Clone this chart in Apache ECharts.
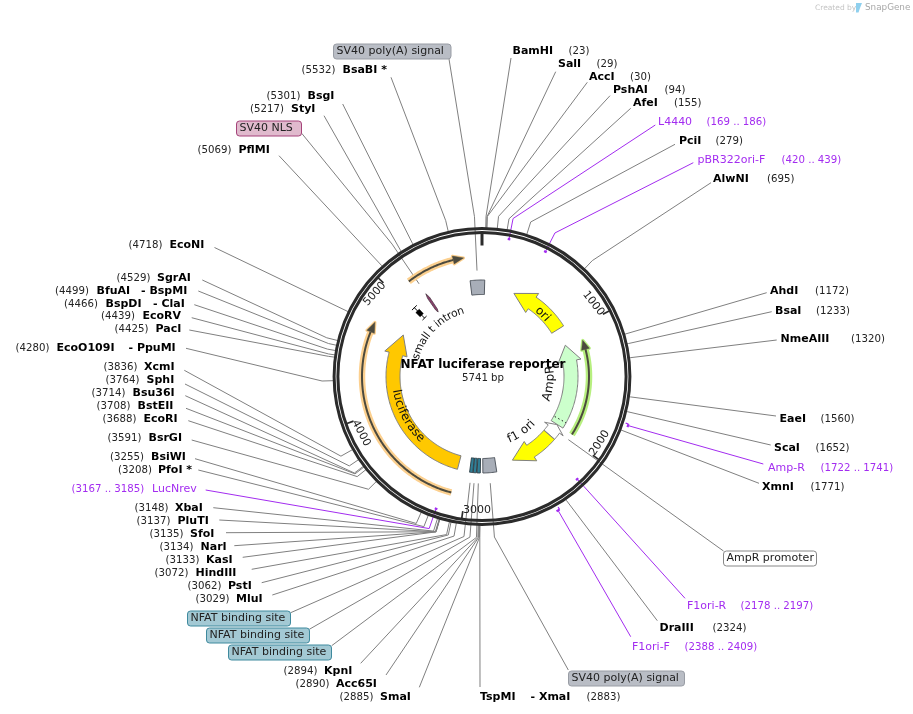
<!DOCTYPE html>
<html>
<head>
<meta charset="utf-8">
<script src="https://cdn.jsdelivr.net/npm/echarts@6/dist/echarts.min.js"></script>
<style>
html, body { margin: 0; padding: 0; background: #fff; }
#map { width: 913px; height: 714px; }
</style>
</head>
<body>
<div id="map"></div>
<script>
// plasmid
var plasmidName = 'NFAT luciferase reporter';
var plasmidLength = 5741;
var tickValues = [1000, 2000, 3000, 4000, 5000];

// restriction sites
var siteNames = ['BamHI', 'SalI', 'AccI', 'PshAI', 'AfeI', 'PciI', 'AlwNI', 'AhdI', 'BsaI', 'NmeAIII', 'EaeI', 'ScaI', 'XmnI', 'DraIII',
	'TspMI - XmaI', 'SmaI', 'Acc65I', 'KpnI', 'MluI', 'PstI', 'HindIII', 'KasI', 'NarI', 'SfoI', 'PluTI', 'XbaI', 'PfoI *', 'BsiWI', 'BsrGI',
	'EcoRI', 'BstEII', 'Bsu36I', 'SphI', 'XcmI', 'EcoO109I - PpuMI', 'PacI', 'EcoRV', 'BspDI - ClaI', 'BfuAI - BspMI', 'SgrAI', 'EcoNI',
	'PflMI', 'StyI', 'BsgI', 'BsaBI *'];
var sitePositions = [23, 29, 30, 94, 155, 279, 695, 1172, 1233, 1320, 1560, 1652, 1771, 2324,
	2883, 2885, 2890, 2894, 3029, 3062, 3072, 3133, 3134, 3135, 3137, 3148, 3208, 3255, 3591,
	3688, 3708, 3714, 3764, 3836, 4280, 4425, 4439, 4466, 4499, 4529, 4718,
	5069, 5217, 5301, 5532];

// primers
var primerNames = ['L4440', 'pBR322ori-F', 'Amp-R', 'F1ori-R', 'F1ori-F', 'LucNrev'];
var primerStarts = [169, 420, 1722, 2178, 2388, 3167];
var primerEnds = [186, 439, 1741, 2197, 2409, 3185];

// features with an arrow: tail, base of the head, tip
var arrowNames = ['ori', 'AmpR', 'AmpR promoter', 'f1 ori', 'luciferase'];
var arrowTails = [928, 1954, 2086, 2089, 3107];
var arrowHeads = [547, 1276, 2012, 2344, 4540];
var arrowTips = [335, 1107, 1957, 2552, 4749];

// features without an arrow
var boxNames = ['SV40 poly(A) signal', 'NFAT binding site', 'NFAT binding site', 'NFAT binding site', 'SV40 poly(A) signal'];
var boxStarts = [2730, 2887, 2924, 2958, 5628];
var boxEnds = [2862, 2917, 2954, 2988, 5767];
var nlsStart = 5185, nlsEnd = 5207;
var intronPosition = 5031;
var signalPeptide = 1895;

// open reading frames: start, end
var orfStarts = [1958, 3107, 5142];
var orfEnds = [1120, 4734, 5600];

// ---- layout, kept apart from the values above ----
var font = '11px "DejaVu Sans"';
var numberFont = '10.2px "DejaVu Sans"';
var boldFont = 'bold 11px "DejaVu Sans"';
var GREY = '#808080', PURPLE = '#a32cf0';

// number x, name x, second name x, y, leader end x, y, elbow radius
var siteLayout = [
	[568.5, 512.5, 0, 51, 511, 58, 160], [596.5, 558, 0, 64, 555.7, 71.7, 160], [630, 589, 0, 77, 587.3, 82.3, 160],
	[664.5, 613, 0, 90, 610, 95.7, 161], [674, 633, 0, 103, 630.7, 108.3, 160], [715.5, 679, 0, 141, 675, 144.3, 162],
	[767, 713, 0, 179, 711, 182.7, 160], [815, 770, 0, 291, 766.7, 292.7, 150], [816, 775, 0, 311, 771.7, 311.7, 150],
	[851, 780.5, 0, 339, 776.7, 340, 150], [820.5, 779.5, 0, 419, 776, 416, 150], [815.5, 774, 0, 448, 770.7, 445, 150],
	[810.5, 762, 0, 487, 759, 483.3, 150], [712.5, 659.5, 0, 628, 657.3, 620.7, 150],
	[586.5, 480, 530.5, 697, 480, 687, 161], [339.5, 380, 0, 697, 419.3, 687.3, 161], [295.5, 336, 0, 684, 386, 675, 161],
	[283.5, 324, 0, 671, 360.7, 663.3, 161], [195.5, 236, 0, 599, 272.3, 595, 162], [187.5, 228, 0, 586, 261.7, 582.7, 162],
	[154.5, 195.5, 0, 573, 251.7, 569.3, 162], [165.5, 206, 0, 560, 242.7, 557.3, 162], [159.5, 200.5, 0, 547, 234.3, 545.7, 162],
	[149.5, 190, 0, 534, 226, 532.7, 162], [136.5, 177.5, 0, 521, 219.3, 520, 162], [134.5, 175, 0, 508, 213.3, 507.7, 162],
	[118, 158, 0, 470, 198.3, 470, 161], [110, 151, 0, 457, 195, 458.7, 161], [107.5, 148.5, 0, 438, 191.7, 440, 160],
	[102.5, 143.5, 0, 419, 188.3, 420.7, 160], [96.5, 137.5, 0, 406, 186, 408.3, 160], [91.5, 132.5, 0, 393, 185.3, 395.7, 160],
	[105.5, 146.5, 0, 380, 185, 384, 160], [103.5, 144, 0, 367, 184.3, 370.3, 162], [15.5, 56.5, 128.5, 348, 186, 348.3, 160],
	[114.5, 155.5, 0, 329, 189.3, 330, 155], [101, 142.5, 0, 316, 191.7, 317.7, 155], [64, 105.5, 153, 303.5, 194.3, 304.7, 157],
	[55, 96.5, 141, 290.5, 198.3, 291, 157], [116.5, 157, 0, 277.5, 202.3, 280, 160], [128.5, 169.5, 0, 245, 214.5, 247.5, 150],
	[197.5, 238.5, 0, 150, 279, 155.7, 150], [250, 291, 0, 109, 324, 115.7, 150], [266.5, 307.5, 0, 96, 342.7, 104, 150],
	[301.5, 342.5, 0, 70, 391, 77.3, 160]
];
// range x, name x, y, leader end x, y, marker radius, elbow radius
var primerLayout = [
	[706.5, 658, 122, 655.3, 125, 140, 161], [781.5, 697.5, 160, 693.3, 162.7, 140, 161], [820.5, 768, 468, 763.3, 464, 154, 154],
	[740.5, 687, 606, 685, 598.3, 140, 150], [684.5, 632, 647, 630.7, 636.7, 154, 154], [71.5, 152, 489, 205.7, 490, 140, 161]
];
// map labels in a box: text, site of the leader in bp, box x, y, w, h, leader end x, y, colours
var boxLabels = [
	{ text: boxNames[4], at: 5698, x: 333.5, y: 44, w: 117.5, h: 15, ex: 449, ey: 59, fill: '#b9bdc5', line: '#999da5', inner: 106, elbow: 160 },
	{ text: 'SV40 NLS', at: 5196, x: 236.5, y: 121, w: 65, h: 15, ex: 301.7, ey: 133.3, fill: '#e0bacd', line: '#a5437a', inner: 112, elbow: 160 },
	{ text: boxNames[1], at: 2973, x: 187.5, y: 611, w: 103, h: 15, ex: 290.7, ey: 612.7, fill: '#a3c9d4', line: '#3f8a9e', inner: 107, elbow: 161 },
	{ text: boxNames[2], at: 2939, x: 206.5, y: 628, w: 103, h: 15, ex: 309.3, ey: 629.3, fill: '#a3c9d4', line: '#3f8a9e', inner: 107, elbow: 161 },
	{ text: boxNames[3], at: 2902, x: 228.5, y: 645, w: 103, h: 15, ex: 331.7, ey: 645.7, fill: '#a3c9d4', line: '#3f8a9e', inner: 107, elbow: 161 },
	{ text: boxNames[0], at: 2800, x: 568.5, y: 671, w: 116, h: 15, ex: 568.3, ey: 670, fill: '#b9bdc5', line: '#999da5', inner: 107, elbow: 161 },
	{ text: arrowNames[2], at: 2012, x: 723.5, y: 551, w: 93, h: 15, ex: 723.5, ey: 551, fill: '#ffffff', line: '#888888', inner: 107, elbow: 107 }
];
var arrowFills = ['#ffff00', '#ccffcc', '#ffffff', '#ffff00', '#ffc800'];
var orfColors = ['#b7ef7f', '#fcd08f', '#fcd08f'];
var orfRadius = [107, 120, 120];
var tickRotation = [52, -57, 0, 62, -48];
var tickAlign = ['right', 'left', 'left', 'left', 'right'];
// text on a bend: text, centre in bp, radius, reads clockwise, font size
var arcTexts = [
	[arrowNames[0], 705, 87, true, 12], [arrowNames[1], 1527, 68.5, false, 12], [arrowNames[3], 2306, 68.5, false, 12],
	[arrowNames[4], 3861, 87, false, 12], ['small t intron', 5018, 68.5, true, 10.8]
];

function pt(api, r, bp) {
	var c = api.coord([r, bp]);
	return [c[0], c[1]];
}

function arcPoints(api, r, from, to) {
	var n = Math.max(2, Math.ceil(Math.abs(to - from) / 12));
	var out = [];
	for (var i = 0; i <= n; i++) {
		out.push(pt(api, r, from + (to - from) * i / n));
	}
	return out;
}

function poly(points, fill, stroke, width) {
	return { type: 'polygon', shape: { points: points }, style: { fill: fill, stroke: stroke, lineWidth: width === undefined ? 1 : width, lineJoin: 'round' } };
}

function line(points, stroke, width) {
	return { type: 'polyline', shape: { points: points }, style: { fill: 'none', stroke: stroke, lineWidth: width === undefined ? 1 : width, lineJoin: 'round' } };
}

function label(x, y, text, f, color) {
	return { type: 'text', style: { x: x, y: y + 0.5, text: text, font: f, fill: color || '#222', align: 'left', verticalAlign: 'middle' } };
}

var measure = document.createElement('canvas').getContext('2d');

function renderSite(params, api) {
	var i = api.value(2), pos = api.value(1), lay = siteLayout[i];
	var parts = siteNames[i].split(' - ');
	var kids = [
		line([pt(api, 148, pos), pt(api, lay[6], pos), [lay[4], lay[5]]], GREY),
		label(lay[0], lay[3], '(' + pos + ')', numberFont),
		label(lay[1], lay[3], parts[0], boldFont, '#000')
	];
	if (parts[1]) {
		kids.push(label(lay[2], lay[3], '- ' + parts[1], boldFont, '#000'));
	}
	return { type: 'group', children: kids };
}

function renderPrimer(params, api) {
	var i = api.value(2), lay = primerLayout[i];
	var a = primerStarts[i], b = primerEnds[i], mid = (a + b) / 2;
	var kids = [
		line([pt(api, lay[5], mid), pt(api, lay[6], mid), [lay[3], lay[4]]], PURPLE),
		line(arcPoints(api, lay[5], a, b), PURPLE, 2.2),
		label(lay[0], lay[2], '(' + a + ' .. ' + b + ')', numberFont, PURPLE),
		label(lay[1], lay[2], primerNames[i], font, PURPLE)
	];
	// primers outside the ring have a small hook
	if (lay[5] > 150) {
		kids.push(line([pt(api, lay[5], a), pt(api, lay[5] - 3, a)], PURPLE, 1.2));
	}
	return { type: 'group', children: kids };
}

function renderBoxLabel(params, api) {
	var b = boxLabels[api.value(2)];
	return { type: 'group', children: [
		line([pt(api, b.inner, b.at), pt(api, b.elbow, b.at), [b.ex, b.ey]], GREY),
		{ type: 'rect', shape: { x: b.x, y: b.y, width: b.w, height: b.h, r: 3 }, style: { fill: b.fill, stroke: b.line, lineWidth: 1 } },
		label(b.x + 3, b.y + 7, b.text, font)
	] };
}

function renderRing(params, api) {
	var c = pt(api, 0, 0);
	return { type: 'group', children: [
		{ type: 'circle', shape: { cx: c[0], cy: c[1], r: 147.9 }, style: { fill: 'none', stroke: '#2b2b2b', lineWidth: 3 } },
		{ type: 'circle', shape: { cx: c[0], cy: c[1], r: 144.1 }, style: { fill: 'none', stroke: '#2b2b2b', lineWidth: 3 } },
		line([pt(api, 143, 0), pt(api, 131, 0)], '#2b2b2b', 3)
	] };
}

function renderTick(params, api) {
	var i = api.value(2), pos = api.value(1);
	var a = pt(api, 135, pos);
	return { type: 'group', children: [
		line([pt(api, 143, pos), pt(api, 136, pos)], '#2b2b2b', 1.7),
		{ type: 'text', x: a[0], y: a[1], rotation: -tickRotation[i] * Math.PI / 180,
			style: { x: 0, y: 0, text: String(pos), font: font, fill: '#222', align: tickAlign[i], verticalAlign: 'middle' } }
	] };
}

function renderArrow(params, api) {
	var i = api.value(2), r0 = 82, r1 = 96;
	var tail = arrowTails[i], head = arrowHeads[i], tip = arrowTips[i];
	var pts = arcPoints(api, r1, tail, head);
	pts.push(pt(api, 100.5, head), pt(api, 89, tip), pt(api, 77.5, head));
	pts = pts.concat(arcPoints(api, r0, head, tail));
	var kids = [poly(pts, arrowFills[i], '#808080')];
	if (arrowNames[i] === 'AmpR') {
		kids.push({ type: 'polyline', shape: { points: [pt(api, 83, signalPeptide), pt(api, 96, signalPeptide)] },
			style: { fill: 'none', stroke: '#222', lineWidth: 1, lineDash: [1.5, 2.5] } });
	}
	return { type: 'group', children: kids };
}

function renderBox(params, api) {
	var i = api.value(2), a = boxStarts[i], b = boxEnds[i];
	var pts = arcPoints(api, 96.5, a, b).concat(arcPoints(api, 82, b, a));
	var nfat = boxNames[i].indexOf('NFAT') === 0;
	return poly(pts, nfat ? '#2f7f97' : '#a8aeb8', nfat ? '#33444c' : '#555b63');
}

function renderNls(params, api) {
	var a = nlsStart, b = nlsEnd, mid = (a + b) / 2;
	var pts = [pt(api, 100, mid), pt(api, 95, b), pt(api, 81, b), pt(api, 78, mid), pt(api, 81, a), pt(api, 95, a)];
	return poly(pts, '#8a3f6c', '#4d3a45', 0.8);
}

function renderIntron(params, api) {
	var p = intronPosition, w = 32;
	return { type: 'group', children: [
		line([pt(api, 96.5, p), pt(api, 82, p)], '#000'),
		line([pt(api, 96.5, p - w), pt(api, 96.5, p + w)], '#000'),
		line([pt(api, 82, p - w), pt(api, 82, p + w)], '#000'),
		poly([pt(api, 92, p - 24), pt(api, 92, p + 24), pt(api, 86, p + 24), pt(api, 86, p - 24)], '#000', '#000', 0.5)
	] };
}

function renderOrf(params, api) {
	var i = api.value(2), r = orfRadius[i];
	var from = orfStarts[i], to = orfEnds[i];
	var dir = to > from ? 1 : -1;
	var back = to - dir * 80;
	var shaft = arcPoints(api, r, from, back);
	var head = [pt(api, r + 4, back), pt(api, r, to), pt(api, r - 4, back)];
	return { type: 'group', children: [
		line(shaft, orfColors[i], 6.5),
		poly(head, orfColors[i], orfColors[i], 3),
		line(shaft, '#4c4a3e', 2),
		poly(head, '#4c4a3e', '#4c4a3e', 0.5)
	] };
}

function renderArcText(params, api) {
	var t = arcTexts[api.value(2)], r = t[2], cw = t[3], kids = [];
	var arcFont = t[4] + 'px "DejaVu Sans"';
	measure.font = arcFont;
	var text = t[0], total = measure.measureText(text).width;
	for (var k = 0; k < text.length; k++) {
		var s = measure.measureText(text.slice(0, k)).width + measure.measureText(text[k]).width / 2 - total / 2;
		var bp = t[1] + (cw ? 1 : -1) * s / r / (2 * Math.PI) * plasmidLength;
		var deg = bp / plasmidLength * 360;
		var p = pt(api, r, bp);
		kids.push({ type: 'text', x: p[0], y: p[1], rotation: -(cw ? deg : deg - 180) * Math.PI / 180,
			style: { x: 0, y: 0, text: text[k], font: arcFont, fill: '#111', align: 'center', verticalAlign: 'middle' } });
	}
	return { type: 'group', children: kids };
}

function series(renderer, positions, z) {
	return {
		type: 'custom',
		coordinateSystem: 'polar',
		silent: true,
		clip: false,
		animation: false,
		z: z,
		dimensions: ['radius', 'angle', 'index'],
		encode: { radius: 0, angle: 1 },
		renderItem: renderer,
		data: positions.map(function (p, i) { return [140, p, i]; })
	};
}

var achart = echarts.init(document.getElementById('map'));

var option = {
	backgroundColor: '#fff',
	animation: false,
	polar: { center: [482, 376.5], radius: 149 },
	angleAxis: { type: 'value', min: 0, max: plasmidLength, startAngle: 90, clockwise: true, show: false },
	radiusAxis: { type: 'value', min: 0, max: 149, show: false },
	graphic: [
		{ type: 'text', x: 815, y: 8, silent: true, style: { text: 'Created by', font: '7.5px "DejaVu Sans"', fill: '#c4c4c4', verticalAlign: 'middle' } },
		{ type: 'polygon', silent: true, shape: { points: [[856, 3], [862, 3], [860, 8], [858.5, 12.5], [856, 12.5]] }, style: { fill: '#8fd0ee' } },
		{ type: 'text', x: 865, y: 8, silent: true, style: { text: 'SnapGene', font: '8.8px "DejaVu Sans"', fill: '#a8a8a8', verticalAlign: 'middle' } },
		{ type: 'text', x: 483, y: 365, z: 20, silent: true, style: { text: plasmidName, font: 'bold 12px "DejaVu Sans"', fill: '#000', align: 'center', verticalAlign: 'middle' } },
		{ type: 'text', x: 483, y: 378.5, z: 20, silent: true, style: { text: plasmidLength + ' bp', font: numberFont, fill: '#222', align: 'center', verticalAlign: 'middle' } }
	],
	series: [
		series(renderSite, sitePositions, 1),
		series(renderPrimer, primerStarts, 2),
		series(renderBoxLabel, boxLabels.map(function (b) { return b.at; }), 3),
		series(renderRing, [0], 4),
		series(renderTick, tickValues, 5),
		series(renderOrf, orfStarts, 6),
		series(renderBox, boxStarts, 7),
		series(renderArrow, arrowTails, 8),
		series(renderNls, [nlsStart], 9),
		series(renderIntron, [intronPosition], 9),
		series(renderArcText, arcTexts.map(function (t) { return t[1]; }), 10)
	]
};
achart.setOption(option);
</script>
</body>
</html>
